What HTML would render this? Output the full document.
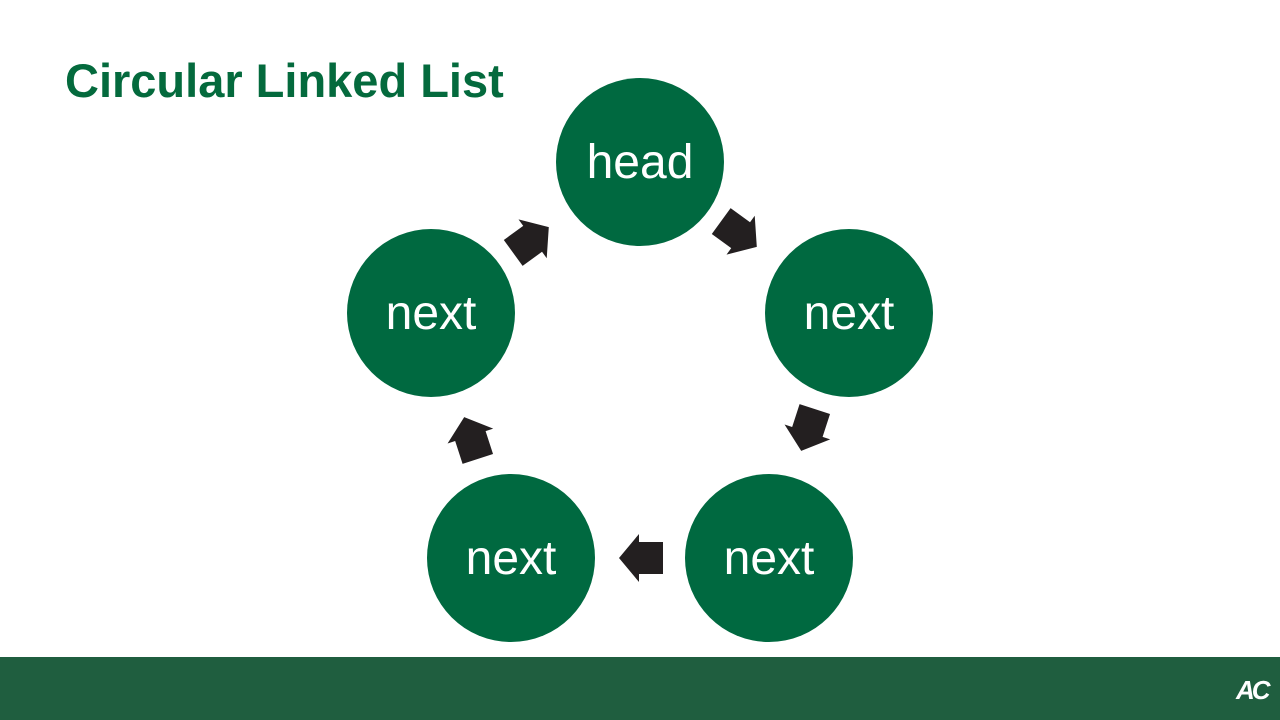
<!DOCTYPE html>
<html><head><style>
body{margin:0;width:1280px;height:720px;overflow:hidden;background:#fff;font-family:"Liberation Sans",sans-serif;position:relative}
.t{position:absolute;left:65px;top:53px;font-size:47px;font-weight:bold;color:#046a3d;white-space:nowrap}
.f{position:absolute;left:0;top:657px;width:1280px;height:63px;background:#1f5e3f}
</style></head><body>
<div class="t">Circular Linked List</div>
<svg width="1280" height="720" style="position:absolute;left:0;top:0">
<defs><polygon id="a" points="-22,-16 2,-16 2,-24 22,0 2,24 2,16 -22,16" fill="#231f20"/></defs>
<g fill="#006940">
<circle cx="640" cy="162" r="84"/><circle cx="849" cy="313" r="84"/><circle cx="769" cy="558" r="84"/><circle cx="511" cy="558" r="84"/><circle cx="431" cy="313" r="84"/>
</g>
<g fill="#fff" font-size="48" text-anchor="middle" font-family="Liberation Sans,sans-serif">
<text x="640" y="178">head</text><text x="849" y="329">next</text><text x="769" y="574">next</text><text x="511" y="574">next</text><text x="431" y="329">next</text>
</g>
<use href="#a" transform="translate(739,234) rotate(36)"/>
<use href="#a" transform="translate(808,430) rotate(108)"/>
<use href="#a" transform="translate(641,558) rotate(180)"/>
<use href="#a" transform="translate(471,438) rotate(252)"/>
<use href="#a" transform="translate(531,240) rotate(-36)"/>
</svg>
<div class="f"></div>
<div style="position:absolute;left:1236px;top:675px;color:#fff;font-weight:bold;font-size:26px;font-style:italic;letter-spacing:-3px">AC</div>
</body></html>
